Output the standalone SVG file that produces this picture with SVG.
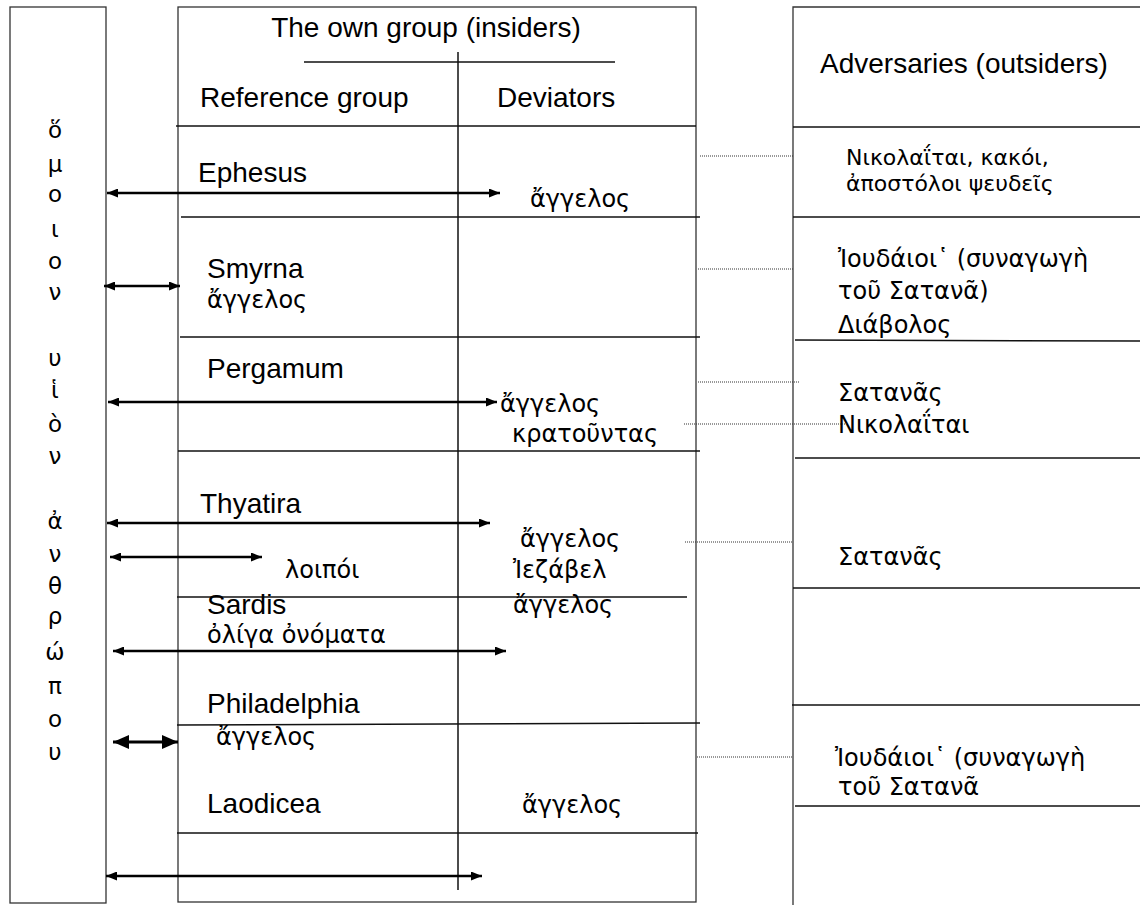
<svg xmlns="http://www.w3.org/2000/svg" width="1140" height="905" viewBox="0 0 1140 905">
<style>
.box{fill:none;stroke:#333;stroke-width:1.3}
.rule{stroke:#111;stroke-width:1.5}
.lat{font-family:"Liberation Sans",Arial,sans-serif;font-size:28px;fill:#000}
.gr{font-family:"DejaVu Sans","Noto Sans",sans-serif;font-size:24px;fill:#000}
.grs{font-family:"DejaVu Sans","Noto Sans",sans-serif;font-size:22px;fill:#000}
.vt{font-family:"DejaVu Sans","Noto Sans",sans-serif;font-size:23px;fill:#000;text-anchor:middle}
.arr{stroke:#000;stroke-width:2.4;fill:none;marker-start:url(#ah);marker-end:url(#ah)}
.arrL{stroke:#000;stroke-width:2.8;fill:none;marker-start:url(#ahL);marker-end:url(#ahL)}
.dot{stroke:#333;stroke-width:1.2;stroke-dasharray:1 1;fill:none}
</style>
<defs>
<marker id="ah" markerUnits="userSpaceOnUse" markerWidth="11" markerHeight="9" refX="11" refY="4.5" orient="auto-start-reverse"><path d="M0,0 L11,4.5 L0,9 z" fill="#000"/></marker>
<marker id="ahL" markerUnits="userSpaceOnUse" markerWidth="16" markerHeight="14" refX="16" refY="7" orient="auto-start-reverse"><path d="M0,0 L16,7 L0,14 z" fill="#000"/></marker>
</defs>

<g id="node-son-of-man">
<rect class="box" x="10" y="7" width="96" height="896"/>
<text class="vt" x="55" y="138">ὅ</text>
<text class="vt" x="55" y="172">μ</text>
<text class="vt" x="55" y="202">ο</text>
<text class="vt" x="55" y="237">ι</text>
<text class="vt" x="55" y="269">ο</text>
<text class="vt" x="55" y="300">ν</text>
<text class="vt" x="55" y="366">υ</text>
<text class="vt" x="55" y="398">ἱ</text>
<text class="vt" x="55" y="432">ὸ</text>
<text class="vt" x="55" y="464">ν</text>
<text class="vt" x="55" y="529">ἀ</text>
<text class="vt" x="55" y="562">ν</text>
<text class="vt" x="55" y="594">θ</text>
<text class="vt" x="55" y="624">ρ</text>
<text class="vt" x="55" y="660">ώ</text>
<text class="vt" x="55" y="694">π</text>
<text class="vt" x="55" y="727">ο</text>
<text class="vt" x="55" y="760">υ</text>
</g>

<g id="node-insiders">
<rect class="box" x="178" y="7" width="518" height="895"/>
<line class="rule" x1="458" y1="52" x2="458" y2="890"/>
<line class="rule" x1="304" y1="62" x2="615" y2="62"/>
<text class="lat" x="426" y="37" text-anchor="middle">The own group (insiders)</text>
<text class="lat" x="200" y="107">Reference group</text>
<text class="lat" x="497" y="107">Deviators</text>
<line class="rule" x1="176" y1="126" x2="696" y2="126"/>
<line class="rule" x1="181" y1="217" x2="700" y2="217"/>
<line class="rule" x1="180" y1="337" x2="700" y2="337"/>
<line class="rule" x1="178" y1="451" x2="700" y2="451"/>
<line class="rule" x1="177" y1="597" x2="687" y2="597"/>
<line class="rule" x1="177" y1="725" x2="700" y2="723"/>
<line class="rule" x1="177" y1="833" x2="698" y2="833"/>
</g>

<g id="row-ephesus">
<text class="lat" x="198" y="182">Ephesus</text>
<text class="gr" x="530" y="207">ἄγγελος</text>
</g>
<g id="row-smyrna">
<text class="lat" x="207" y="278">Smyrna</text>
<text class="gr" x="207" y="308">ἄγγελος</text>
</g>
<g id="row-pergamum">
<text class="lat" x="207" y="378">Pergamum</text>
<text class="gr" x="500" y="412">ἄγγελος</text>
<text class="gr" x="512" y="442">κρατοῦντας</text>
</g>
<g id="row-thyatira">
<text class="lat" x="200" y="513">Thyatira</text>
<text class="gr" x="520" y="547">ἄγγελος</text>
<text class="gr" x="285" y="578">λοιπόι</text>
<text class="gr" x="513" y="578">Ἰεζάβελ</text>
</g>
<g id="row-sardis">
<text class="lat" x="207" y="614">Sardis</text>
<text class="gr" x="513" y="613">ἄγγελος</text>
<text class="gr" x="207" y="643">ὀλίγα ὀνόματα</text>
</g>
<g id="row-philadelphia">
<text class="lat" x="207" y="713">Philadelphia</text>
<text class="gr" x="216" y="745">ἄγγελος</text>
</g>
<g id="row-laodicea">
<text class="lat" x="207" y="813">Laodicea</text>
<text class="gr" x="522" y="813">ἄγγελος</text>
</g>

<g id="node-outsiders">
<path class="box" d="M793,905 V7 H1140"/>
<text class="lat" x="820" y="73">Adversaries (outsiders)</text>
<line class="rule" x1="793" y1="127" x2="1140" y2="127"/>
<line class="rule" x1="793" y1="217" x2="1140" y2="217"/>
<line class="rule" x1="795" y1="340" x2="1140" y2="341"/>
<line class="rule" x1="795" y1="458" x2="1140" y2="458"/>
<line class="rule" x1="793" y1="588" x2="1140" y2="588"/>
<line class="rule" x1="792" y1="705" x2="1140" y2="705"/>
<line class="rule" x1="795" y1="806" x2="1140" y2="806"/>
<text class="grs" x="846" y="165">Νικολαΐται, κακόι,</text>
<text class="grs" x="846" y="191">ἀποστόλοι ψευδεῖς</text>
<text class="gr" x="838" y="267">Ἰουδάιοι῾ (συναγωγὴ</text>
<text class="gr" x="838" y="299">τοῦ Σατανᾶ)</text>
<text class="gr" x="838" y="333">Διάβολος</text>
<text class="gr" x="838" y="401">Σατανᾶς</text>
<text class="gr" x="838" y="433">Νικολαΐται</text>
<text class="gr" x="838" y="565">Σατανᾶς</text>
<text class="gr" x="835" y="766">Ἰουδάιοι῾ (συναγωγὴ</text>
<text class="gr" x="838" y="795">τοῦ Σατανᾶ</text>
</g>

<g id="connectors">
<line class="arr" x1="107" y1="193" x2="500" y2="193"/>
<line class="arr" x1="104" y1="286" x2="180" y2="286"/>
<line class="arr" x1="108" y1="402" x2="497" y2="402"/>
<line class="arr" x1="107" y1="523" x2="490" y2="523"/>
<line class="arr" x1="110" y1="557" x2="262" y2="557"/>
<line class="arr" x1="113" y1="651" x2="506" y2="651"/>
<line class="arrL" x1="113" y1="742" x2="178" y2="742"/>
<line class="arr" x1="106" y1="876" x2="482" y2="876"/>
<line class="dot" x1="700" y1="156" x2="793" y2="156"/>
<line class="dot" x1="698" y1="269" x2="793" y2="269"/>
<line class="dot" x1="698" y1="382" x2="800" y2="382"/>
<line class="dot" x1="684" y1="424" x2="848" y2="424"/>
<line class="dot" x1="685" y1="542" x2="793" y2="542"/>
<line class="dot" x1="697" y1="757" x2="793" y2="757"/>
</g>
</svg>
